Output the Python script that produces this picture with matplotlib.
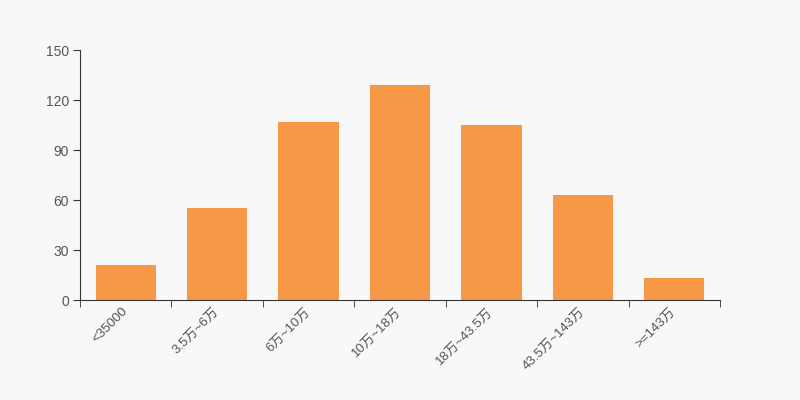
import matplotlib
matplotlib.use("Agg")
import matplotlib.pyplot as plt
import numpy as np

plt.rcParams['font.family'] = ['Liberation Sans', 'Noto Sans CJK SC', 'DejaVu Sans']

categories = ['<35000', '3.5万~6万', '6万~10万', '10万~18万', '18万~43.5万', '43.5万~143万', '>=143万']
counts = [21, 55, 107, 129, 105, 63, 13]
y_ticks = [0, 30, 60, 90, 120, 150]

bg = '#f8f8f8'
bar_color = '#f79848'
text_color = '#555555'

fig = plt.figure(figsize=(8, 4), dpi=100, facecolor=bg)
ax = fig.add_axes([0.1, 0.25, 0.8, 0.625], facecolor=bg)

x = np.arange(len(categories))
ax.bar(x, counts, width=0.66, color=bar_color)

ax.set_xlim(-0.5, len(categories) - 0.5)
ax.set_ylim(0, 150)
ax.set_yticks(y_ticks)
ax.set_yticklabels([str(t) for t in y_ticks], color=text_color, fontsize=10)

# labels at band centres, tick marks at band edges
ax.set_xticks(x - 0.05)
ax.set_xticklabels(categories, rotation=45, ha='right', va='top',
                   rotation_mode='anchor', color=text_color, fontsize=9.5)
ax.tick_params(axis='x', which='major', length=0, pad=4)
ax.set_xticks(np.arange(len(categories) + 1) - 0.5, minor=True)
ax.tick_params(axis='x', which='minor', length=5, color='#333333')
ax.tick_params(axis='y', length=5, color='#333333', pad=3)

for s in ['top', 'right']:
    ax.spines[s].set_visible(False)
for s in ['left', 'bottom']:
    ax.spines[s].set_color('#333333')

fig.savefig('out.png', dpi=100, facecolor=bg)
